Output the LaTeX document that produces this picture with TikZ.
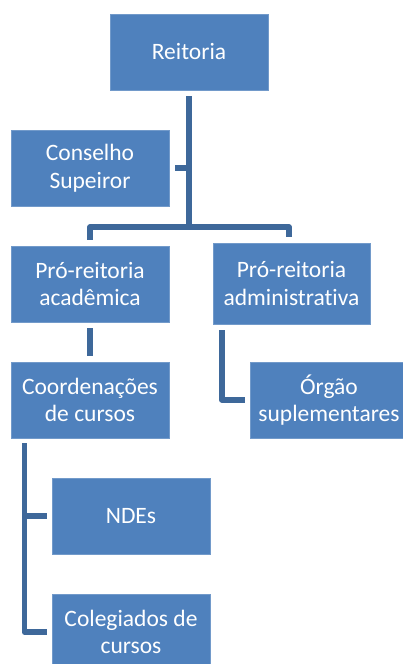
\documentclass[tikz,border=0pt]{standalone}
\usepackage{fontspec}
\setmainfont{Carlito}[Ligatures=NoCommon]
\definecolor{boxblue}{RGB}{79,129,189}
\definecolor{lineblue}{RGB}{62,104,154}
\tikzset{   unit/.style = {draw=boxblue!80!white, fill=boxblue, thin, rectangle, text=white, align=center, inner sep=0pt,
                           minimum height=76pt, minimum width=158pt, font=\fontsize{23.5}{27.5}\selectfont},
            link/.style = {draw=lineblue, line width=5.5pt, line join=round}}

\begin{document}
\begin{tikzpicture}[x=1pt, y=-1pt]
    \useasboundingbox (0,0) rectangle (403,664);
    \node[unit](reit)at(189,52){Reitoria};
    \node[unit](cons)at(90,168){Conselho\\Supeiror};
    \node[unit](acad)at(90,284){Pró-reitoria\\acadêmica};
    \node[unit, minimum width=157pt, minimum height=81pt](adm)at(291.5,283.5){Pró-reitoria\\administrativa};
    \node[unit](coord)at(90,400){Coordenações\\de cursos};
    \node[unit](org)at(329,400){Órgão\\suplementares};
    \node[unit](nde)at(131,516){NDEs};
    \node[unit](col)at(131,632){Colegiados de\\cursos};

    % trunk below Reitoria
    \draw[link]([yshift=-6pt]reit.south)--(189,227)coordinate(bar);
    \draw[link]([xshift=6pt]cons.east)--(cons.east-|bar);
    \draw[link]([yshift=6pt]acad.north)|-(bar)-|([yshift=6pt,xshift=-2.5pt]adm.north);
    \draw[link]([yshift=-6pt]acad.south)--([yshift=6pt]coord.north);
    \draw[link]([xshift=9pt,yshift=-6pt]adm.south west)|-([xshift=-5pt]org.west);

    % branches under Coordenacoes
    \coordinate(ct)at([xshift=13.5pt,yshift=-5pt]coord.south west);
    \draw[link](ct)|-([xshift=-5pt]col.west);
    \draw[link]([xshift=-5pt]nde.west)--(nde.west-|ct);
\end{tikzpicture}
\end{document}
